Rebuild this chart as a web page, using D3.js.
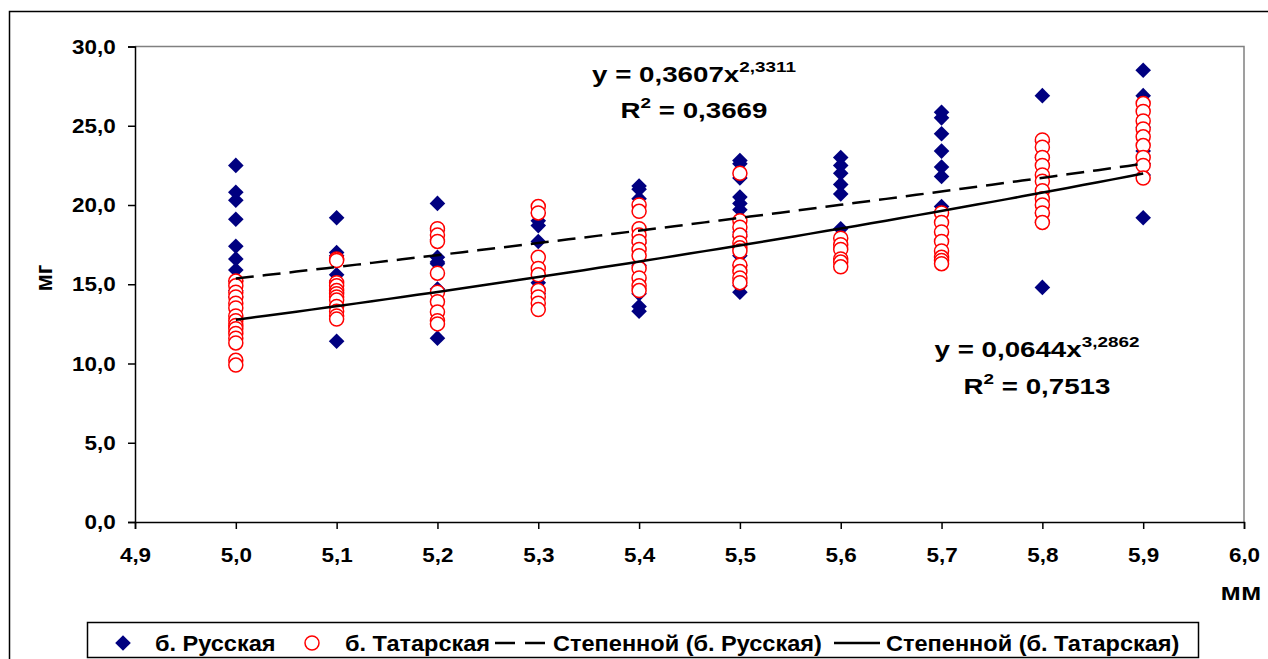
<!DOCTYPE html>
<html>
<head>
<meta charset="utf-8">
<script src="https://cdn.jsdelivr.net/npm/d3@7"></script>
<style>
  html, body { margin: 0; padding: 0; background: #fff; }
  svg { display: block; font-family: "Liberation Sans", Arial, sans-serif; font-weight: bold; }
</style>
</head>
<body>
<svg id="chart" width="1268" height="659"></svg>
<script>
// ---- data ----
const russianX = [5.0,5.0,5.0,5.0,5.0,5.0,5.0,5.0,5.0,5.0,
  5.1,5.1,5.1,5.1,5.1,5.1,5.1,
  5.2,5.2,5.2,5.2,5.2,5.2,5.2,5.2,
  5.3,5.3,5.3,5.3,5.3,5.3,
  5.4,5.4,5.4,5.4,5.4,5.4,5.4,5.4,
  5.5,5.5,5.5,5.5,5.5,5.5,5.5,5.5,5.5,5.5,5.5,5.5,
  5.6,5.6,5.6,5.6,5.6,5.6,
  5.7,5.7,5.7,5.7,5.7,5.7,5.7,5.7,
  5.8,5.8,5.8,5.8,5.8,5.8,
  5.9,5.9,5.9,5.9,5.9,5.9,5.9];
const russianY = [22.5,20.8,20.3,19.1,17.4,16.6,15.9,15.2,14.6,14.2,
  19.2,17.0,16.8,15.6,15.2,14.5,11.4,
  20.1,18.4,17.8,16.7,16.4,16.3,14.7,11.6,
  19.5,19.0,18.7,17.7,15.1,14.4,
  21.2,21.0,20.4,17.6,16.2,14.4,13.6,13.3,
  22.8,22.6,21.7,20.5,20.1,19.7,18.3,18.0,16.8,16.2,14.9,14.5,
  23.0,22.5,22.0,21.3,20.7,18.5,
  25.85,25.5,24.5,23.4,22.4,21.8,19.9,17.8,
  26.9,24.0,23.0,19.5,18.9,14.8,
  28.5,26.9,24.9,23.4,22.6,21.9,19.2];

const tatarX = [5.0,5.0,5.0,5.0,5.0,5.0,5.0,5.0,5.0,5.0,5.0,5.0,5.0,5.0,5.0,
  5.1,5.1,5.1,5.1,5.1,5.1,5.1,5.1,5.1,5.1,5.1,5.1,
  5.2,5.2,5.2,5.2,5.2,5.2,5.2,5.2,5.2,
  5.3,5.3,5.3,5.3,5.3,5.3,5.3,5.3,5.3,
  5.4,5.4,5.4,5.4,5.4,5.4,5.4,5.4,5.4,5.4,5.4,
  5.5,5.5,5.5,5.5,5.5,5.5,5.5,5.5,5.5,5.5,5.5,
  5.6,5.6,5.6,5.6,5.6,5.6,
  5.7,5.7,5.7,5.7,5.7,5.7,5.7,5.7,
  5.8,5.8,5.8,5.8,5.8,5.8,5.8,5.8,5.8,5.8,5.8,
  5.9,5.9,5.9,5.9,5.9,5.9,5.9,5.9,5.9];
const tatarY = [15.2,14.9,14.5,14.2,13.8,13.5,13.0,12.7,12.4,12.2,11.9,11.6,11.3,10.2,9.9,
  16.6,16.5,15.1,14.9,14.6,14.4,14.2,14.0,13.6,13.3,13.0,12.8,
  18.5,18.1,17.7,15.7,14.5,13.9,13.25,12.7,12.5,
  19.9,19.5,16.7,16.0,15.6,14.6,14.2,13.8,13.4,
  20.0,19.6,18.5,18.1,17.7,17.2,16.8,16.0,15.4,14.9,14.6,
  22.0,19.0,18.6,18.1,17.6,17.3,17.1,16.2,15.8,15.4,15.1,
  17.9,17.5,17.2,16.6,16.4,16.1,
  19.5,18.9,18.3,17.7,17.1,16.7,16.5,16.3,
  24.1,23.65,23.0,22.5,21.9,21.5,20.9,20.4,20.0,19.5,18.9,
  26.4,25.9,25.3,24.8,24.3,23.75,23.0,22.5,21.7];

// power trendline coefficients (as printed on chart): y = a * x^b
const trendRussian = {a: 0.3607, b: 2.3311};
const trendTatar = {a: 0.0644, b: 3.2862};
const trendXRange = [5.0, 5.9];

const xTicks = [4.9,5.0,5.1,5.2,5.3,5.4,5.5,5.6,5.7,5.8,5.9,6.0];
const yTicks = [0,5,10,15,20,25,30];

const legendLabels = ["б. Русская", "б. Татарская", "Степенной (б. Русская)", "Степенной (б. Татарская)"];
const eq1 = ["y = 0,3607x", "2,3311", "R", "2", " = 0,3669"];
const eq2 = ["y = 0,0644x", "3,2862", "R", "2", " = 0,7513"];

// ---- drawing ----
const svg = d3.select("#chart");
const fmt = v => d3.format(".1f")(v).replace(".", ",");
const FONT = '"Liberation Sans", Arial, sans-serif';

const x = d3.scaleLinear().domain([4.9, 6.0]).range([135, 1244]);
const y = d3.scaleLinear().domain([0, 30]).range([522, 46.5]);

// outer chart frame
svg.append("rect").attr("x", 9.5).attr("y", 11.5).attr("width", 1400).attr("height", 800)
  .attr("fill", "#fff").attr("stroke", "#000").attr("stroke-width", 1.5);

// plot area border (gray top/right)
svg.append("path")
  .attr("d", `M${x(4.9)},${y(30)}H${x(6.0)}V${y(0)}`)
  .attr("fill", "none").attr("stroke", "#808080").attr("stroke-width", 1.5);

// axes
const tickSX = 1.07;
const yAxis = d3.axisLeft(y).tickValues(yTicks).tickFormat(fmt).tickSize(7).tickPadding(11);
const xAxis = d3.axisBottom(x).tickValues(xTicks).tickFormat(fmt).tickSize(7).tickPadding(18);

const gy = svg.append("g").attr("transform", `translate(${x(4.9)},0)`).call(yAxis);
const gx = svg.append("g").attr("transform", `translate(0,${y(0)})`).call(xAxis);
[gx, gy].forEach(g => {
  g.select(".domain").attr("stroke", "#000").attr("stroke-width", 1.5);
  g.selectAll(".tick line").attr("stroke", "#000").attr("stroke-width", 1.5);
  g.selectAll(".tick text").attr("fill", "#000")
    .attr("transform", `scale(${tickSX},1)`)
    .style("font-family", FONT)
    .style("font-weight", "bold").style("font-size", "21px");
});

// axis titles
svg.append("text").attr("transform", "translate(52,278) rotate(-90)")
  .attr("text-anchor", "middle").style("font-size", "23px").text("мг");
svg.append("text").attr("transform", "translate(1241,600) scale(1.2,1)")
  .attr("text-anchor", "middle").style("font-size", "23px").text("мм");

// series: Russian diamonds
const sq = 7.8;
const diamondPath = `M0,${-sq}L${sq},0L0,${sq}L${-sq},0Z`;
svg.append("g").selectAll("path").data(russianX.map((v, i) => [v, russianY[i]]))
  .join("path")
  .attr("d", diamondPath)
  .attr("transform", d => `translate(${x(d[0])},${y(d[1])})`)
  .attr("fill", "#000080");

// series: Tatar circles
svg.append("g").selectAll("circle").data(tatarX.map((v, i) => [v, tatarY[i]]))
  .join("circle")
  .attr("cx", d => x(d[0])).attr("cy", d => y(d[1])).attr("r", 7)
  .attr("fill", "#fff").attr("stroke", "#ff0000").attr("stroke-width", 1.5);

// trend lines
function trendPoints(t) {
  const pts = [];
  const n = 60;
  for (let i = 0; i <= n; i++) {
    const xv = trendXRange[0] + (trendXRange[1] - trendXRange[0]) * i / n;
    pts.push([xv, t.a * Math.pow(xv, t.b)]);
  }
  return pts;
}
const line = d3.line().x(d => x(d[0])).y(d => y(d[1]));
svg.append("path").attr("d", line(trendPoints(trendRussian)))
  .attr("fill", "none").attr("stroke", "#000").attr("stroke-width", 2.5)
  .attr("stroke-dasharray", "18,9");
svg.append("path").attr("d", line(trendPoints(trendTatar)))
  .attr("fill", "none").attr("stroke", "#000").attr("stroke-width", 2.5);

// equations
const eqSX = 1.26;
function equation(cx, yb1, yb2, e) {
  const t1 = svg.append("text").attr("transform", `translate(${cx},${yb1}) scale(${eqSX},1)`)
    .attr("text-anchor", "middle").style("font-size", "22px");
  t1.append("tspan").text(e[0]);
  t1.append("tspan").attr("dy", -10).style("font-size", "15px").text(e[1]);
  const t2 = svg.append("text").attr("transform", `translate(${cx},${yb2}) scale(${eqSX},1)`)
    .attr("text-anchor", "middle").style("font-size", "22px");
  t2.append("tspan").text(e[2]);
  t2.append("tspan").attr("dy", -10).style("font-size", "15px").text(e[3]);
  t2.append("tspan").attr("dy", 10).text(e[4]);
}
equation(694, 82, 118, eq1);
equation(1037, 357, 394, eq2);

// legend
const lg = svg.append("g");
lg.append("rect").attr("x", 87.5).attr("y", 622.5).attr("width", 1111).attr("height", 35)
  .attr("fill", "#fff").attr("stroke", "#000").attr("stroke-width", 1.5);
const ly = 643;
lg.append("path").attr("d", diamondPath).attr("transform", `translate(123,${ly})`).attr("fill", "#000080");
lg.append("circle").attr("cx", 312).attr("cy", ly).attr("r", 7)
  .attr("fill", "#fff").attr("stroke", "#ff0000").attr("stroke-width", 1.5);
lg.append("line").attr("x1", 495).attr("x2", 545).attr("y1", ly).attr("y2", ly)
  .attr("stroke", "#000").attr("stroke-width", 2.5).attr("stroke-dasharray", "20,10");
lg.append("line").attr("x1", 834).attr("x2", 880).attr("y1", ly).attr("y2", ly)
  .attr("stroke", "#000").attr("stroke-width", 2.5);
const lx = [155, 345, 553, 886];
const legSX = 1.07;
legendLabels.forEach((t, i) => {
  lg.append("text").attr("transform", `translate(${lx[i]},${ly + 8}) scale(${legSX},1)`)
    .style("font-size", "22px").text(t);
});
</script>
</body>
</html>
